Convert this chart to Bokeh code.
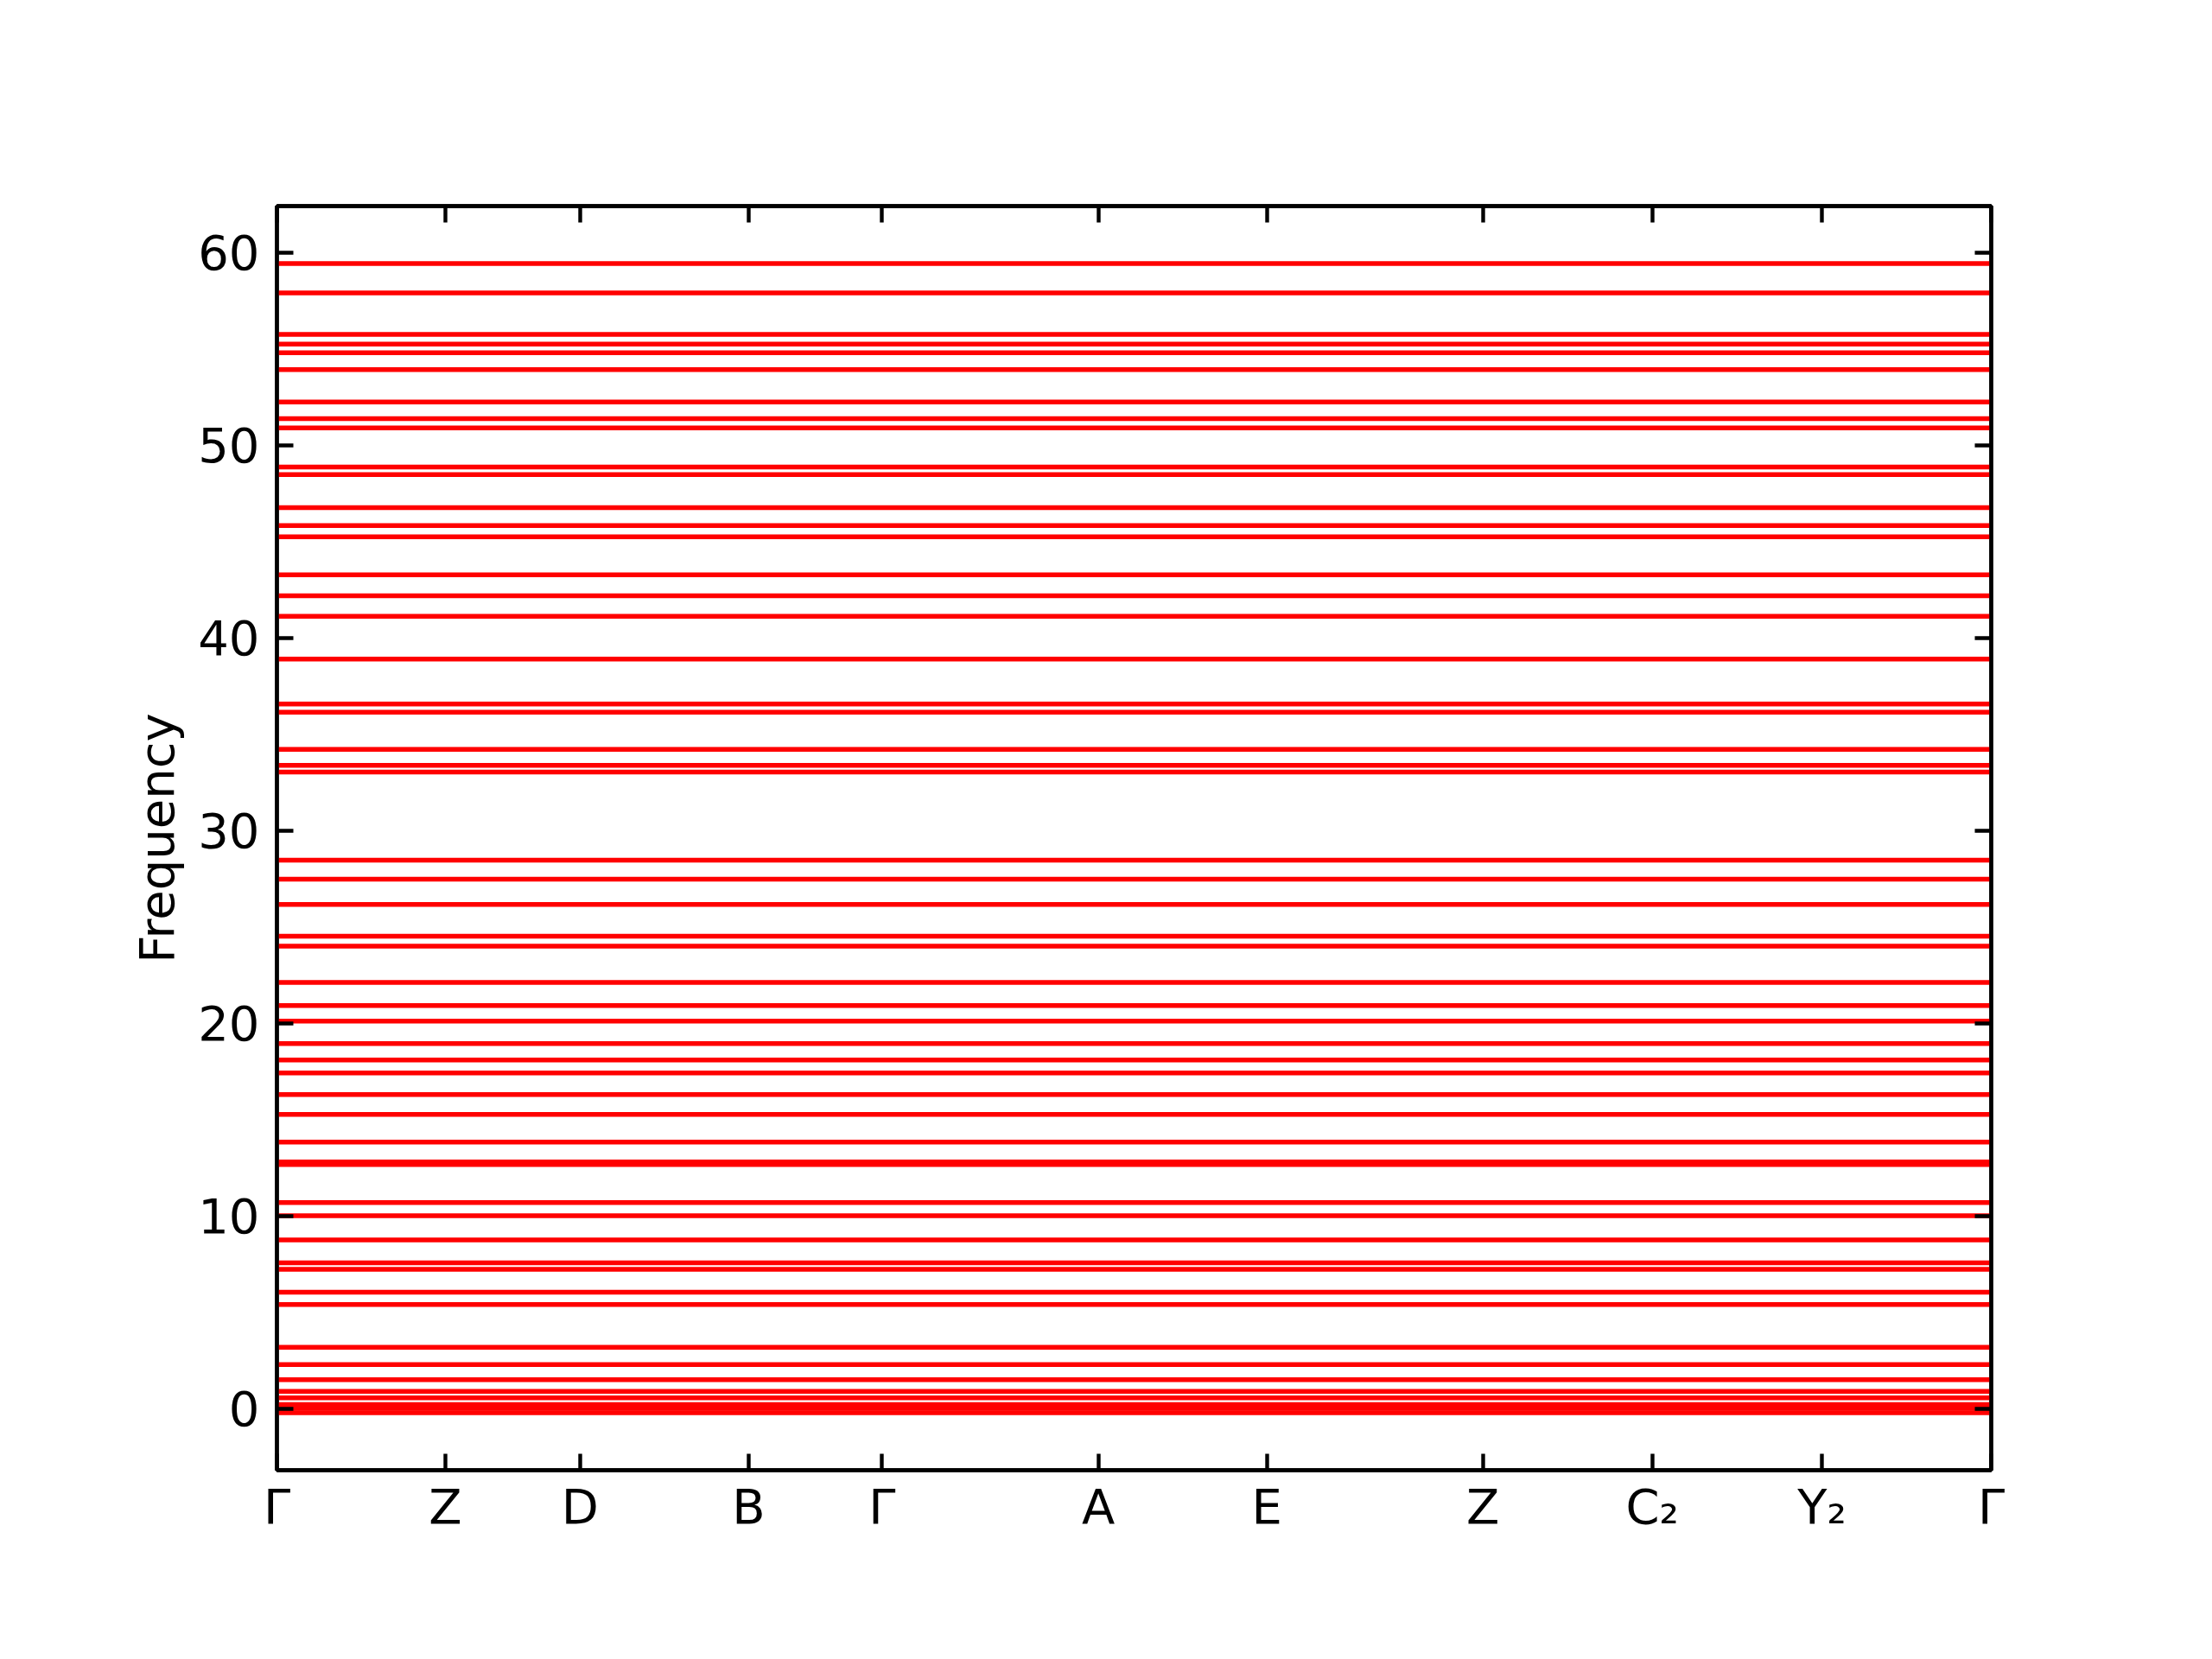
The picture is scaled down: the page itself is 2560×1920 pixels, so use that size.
from bokeh.plotting import figure
from bokeh.models import Range1d, FixedTicker, LinearAxis, CustomJSTickFormatter, ColumnDataSource
from bokeh.embed import file_html
from bokeh.resources import INLINE

# High-symmetry path: positions (normalised path length) and labels
k_positions = [0.0, 0.0983, 0.1768, 0.2752, 0.3530, 0.4792, 0.5775, 0.7035, 0.8023, 0.9013, 1.0]
k_labels = ["Γ", "Z", "D", "B", "Γ", "A", "E", "Z", "C₂", "Y₂", "Γ"]

# Flat phonon branches (frequency of each band)
frequencies = [
    -0.22, 0.00, 0.21, 0.55, 0.89, 1.49, 2.28, 3.18,
    5.40, 6.04, 7.22, 7.56, 8.75, 10.01, 10.69,
    12.66, 12.80, 13.83, 15.26, 16.30, 17.42, 18.09, 18.94,
    20.11, 20.92, 22.12, 24.00, 24.51, 26.16, 27.47, 28.46,
    33.04, 33.38, 34.21, 36.14, 36.57, 38.90,
    41.12, 42.19, 43.27, 45.25, 45.83, 46.76, 48.48, 48.87,
    50.90, 51.38, 52.24, 53.93, 54.80, 55.25, 55.75, 57.90, 59.43,
]
y_ticks = [0, 10, 20, 30, 40, 50, 60]

FONT = "DejaVu Sans"
FS = "56px"
LW = 4.4

fmin, fmax = min(frequencies), max(frequencies)
pad = 0.05 * (fmax - fmin)

p = figure(width=2544, height=1904, output_backend="svg", toolbar_location=None,
           x_range=Range1d(k_positions[0], k_positions[-1]),
           y_range=Range1d(fmin - pad, fmax + pad),
           min_border_left=320, min_border_right=240, min_border_top=238, min_border_bottom=203,
           x_axis_location="below", y_axis_location="left")
p.background_fill_color = "white"
p.border_fill_color = "white"
p.grid.visible = False
p.outline_line_color = "black"
p.outline_line_width = LW

src = ColumnDataSource(dict(
    x0=[k_positions[0]] * len(frequencies),
    x1=[k_positions[-1]] * len(frequencies),
    y=frequencies,
))
p.segment(x0="x0", y0="y", x1="x1", y1="y", source=src, line_color="#ff0000", line_width=5.5)

def style(ax, show_labels):
    ax.axis_line_color = "black"
    ax.axis_line_width = LW
    ax.major_tick_in = 19
    ax.major_tick_out = 0
    ax.major_tick_line_width = LW
    ax.major_tick_line_color = "black"
    ax.minor_tick_line_color = None
    ax.major_label_text_font = FONT
    ax.major_label_text_font_size = FS
    ax.major_label_text_color = "black"
    if not show_labels:
        ax.formatter = CustomJSTickFormatter(code="return ''")

xt = FixedTicker(ticks=k_positions)
yt = FixedTicker(ticks=y_ticks)

xa = p.xaxis[0]
xa.ticker = xt
xa.major_label_overrides = {k: lab for k, lab in zip(k_positions, k_labels)}
style(xa, True)
xa.major_label_standoff = 9

ya = p.yaxis[0]
ya.ticker = yt
style(ya, True)
ya.major_label_standoff = 20
ya.axis_label = "Frequency"
ya.axis_label_text_font = FONT
ya.axis_label_text_font_size = FS
ya.axis_label_text_font_style = "normal"
ya.axis_label_text_color = "black"
ya.axis_label_standoff = 12

top = LinearAxis(ticker=xt)
style(top, False)
p.add_layout(top, "above")
right = LinearAxis(ticker=yt)
style(right, False)
p.add_layout(right, "right")

open("out.html", "w").write(file_html(p, INLINE))
